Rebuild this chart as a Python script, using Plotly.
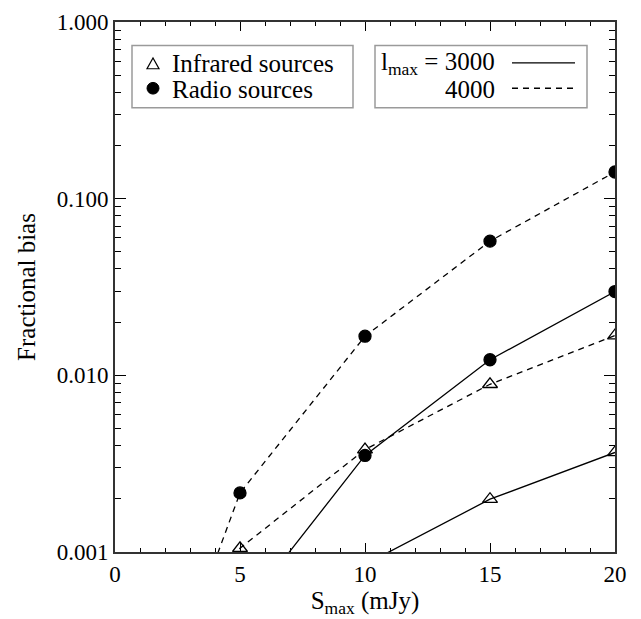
import plotly.graph_objects as go

# ---- data ----
s_max = [0, 5, 10, 15, 20]
ir_3000 = [0.00001, 0.0002, 0.00085, 0.00199, 0.00366]
ir_4000 = [0.00005, 0.00105, 0.0038, 0.0089, 0.0168]
radio_3000 = [0.00002, 0.00044, 0.00352, 0.01225, 0.0298]
radio_4000 = [0.000026, 0.00216, 0.01665, 0.0575, 0.1416]

y_tickvals = [0.001, 0.01, 0.1, 1.0]
y_ticktext = ["0.001", "0.010", "0.100", "1.000"]
x_tickvals = [0, 5, 10, 15, 20]
x_ticktext = ["0", "5", "10", "15", "20"]

W, H = 641, 619
ML, MR, MT, MB = 115, 26, 10, 65
PW, PH = W - ML - MR, H - MT - MB

FONT = "Liberation Serif"
BLACK = "black"


def px(x):
    return (x - ML) / PW


def py(y):
    return (H - MB - y) / PH


fig = go.Figure()

series = [
    (ir_3000, "triangle-up-open", "solid", "IR 3000"),
    (ir_4000, "triangle-up-open", "6px,5px", "IR 4000"),
    (radio_3000, "circle", "solid", "Radio 3000"),
    (radio_4000, "circle", "6px,5px", "Radio 4000"),
]
for vals, sym, dash, name in series:
    fig.add_trace(go.Scatter(
        x=s_max, y=vals, mode="lines+markers", name=name,
        line=dict(color=BLACK, width=1.3, dash=dash),
        marker=dict(symbol=sym, size=13 if "triangle" in sym else 12,
                    color=BLACK, line=dict(color=BLACK, width=1.3)),
        cliponaxis=True, showlegend=False,
    ))

minor_y = [m * 10 ** k for k in (-3, -2, -1) for m in range(2, 10)]
minor_x = [v for v in range(0, 21) if v % 5 != 0]

fig.update_xaxes(
    range=[0, 20], tickmode="array", tickvals=x_tickvals, ticktext=x_ticktext,
    ticks="inside", ticklen=9, tickwidth=1.3, tickcolor=BLACK,
    minor=dict(tickvals=minor_x, ticks="inside", ticklen=4, tickwidth=1.2, tickcolor=BLACK),
    showline=True, linecolor="#333", linewidth=2, mirror="allticks",
    showgrid=False, zeroline=False, ticklabeloverflow="allow",
    tickfont=dict(family=FONT, size=23, color=BLACK),
    title=dict(text="S<sub>max</sub> (mJy)", font=dict(family=FONT, size=25, color=BLACK), standoff=5),
)
fig.update_yaxes(
    type="log", range=[-3, 0], tickmode="array", tickvals=y_tickvals, ticktext=y_ticktext,
    ticks="inside", ticklen=11, tickwidth=1.3, tickcolor=BLACK,
    minor=dict(tickvals=minor_y, ticks="inside", ticklen=6, tickwidth=1.2, tickcolor=BLACK),
    showline=True, linecolor="#333", linewidth=2, mirror="allticks",
    showgrid=False, zeroline=False, ticklabeloverflow="allow",
    tickfont=dict(family=FONT, size=23, color=BLACK),
    title=dict(text="Fractional bias", font=dict(family=FONT, size=25, color=BLACK), standoff=14),
)

shapes = []
annos = []
BOX = "#9a9a9a"
# legend box 1: symbols
shapes.append(dict(type="rect", xref="paper", yref="paper",
                   x0=px(132), x1=px(353), y0=py(98), y1=py(34),
                   line=dict(color=BOX, width=1.5), fillcolor="white"))
tx, ty = 153, 53
shapes.append(dict(type="path", xref="paper", yref="paper",
                   path=f"M {px(tx-6)} {py(ty+5)} L {px(tx+6)} {py(ty+5)} L {px(tx)} {py(ty-6)} Z",
                   line=dict(color=BLACK, width=1.2)))
cx, cy = 153, 78
shapes.append(dict(type="circle", xref="paper", yref="paper",
                   x0=px(cx-6), x1=px(cx+6), y0=py(cy+6), y1=py(cy-6),
                   line=dict(color=BLACK, width=1), fillcolor=BLACK))
annos.append(dict(xref="paper", yref="paper", x=px(170), y=py(53), xanchor="left", yanchor="middle",
                  text="Infrared sources", showarrow=False, font=dict(family=FONT, size=25, color=BLACK)))
annos.append(dict(xref="paper", yref="paper", x=px(170), y=py(79), xanchor="left", yanchor="middle",
                  text="Radio sources", showarrow=False, font=dict(family=FONT, size=25, color=BLACK)))

# legend box 2: line styles
shapes.append(dict(type="rect", xref="paper", yref="paper",
                   x0=px(375), x1=px(587), y0=py(98), y1=py(34),
                   line=dict(color=BOX, width=1.5), fillcolor="white"))
annos.append(dict(xref="paper", yref="paper", x=px(497), y=py(53), xanchor="right", yanchor="middle",
                  text="l<sub>max</sub> = 3000", showarrow=False, font=dict(family=FONT, size=25, color=BLACK)))
annos.append(dict(xref="paper", yref="paper", x=px(497), y=py(79), xanchor="right", yanchor="middle",
                  text="4000", showarrow=False, font=dict(family=FONT, size=25, color=BLACK)))
shapes.append(dict(type="line", xref="paper", yref="paper",
                   x0=px(512), x1=px(575), y0=py(52), y1=py(52),
                   line=dict(color=BLACK, width=1.3)))
shapes.append(dict(type="line", xref="paper", yref="paper",
                   x0=px(512), x1=px(575), y0=py(78), y1=py(78),
                   line=dict(color=BLACK, width=1.3, dash="6px,5px")))

fig.update_layout(
    width=W, height=H, margin=dict(l=ML, r=MR, t=MT, b=MB),
    paper_bgcolor="white", plot_bgcolor="white",
    shapes=shapes, annotations=annos, showlegend=False,
    font=dict(family=FONT, color=BLACK),
)

fig.write_html("out.html")
